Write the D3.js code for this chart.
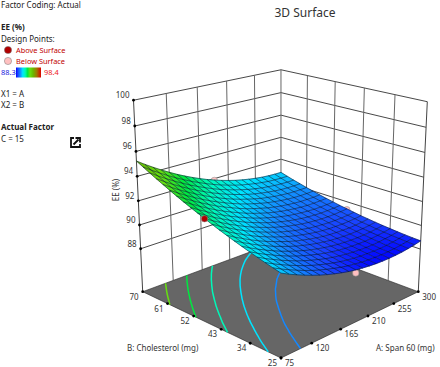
<!DOCTYPE html>
<html>
<head>
<meta charset="utf-8">
<script src="https://d3js.org/d3.v7.min.js"></script>
<style>
    html, body { margin: 0; padding: 0; background: #fff; }
    svg { display: block; }
    text { font-family: "Noto Sans", "Open Sans", sans-serif; font-size: 8px; fill: #333; }
</style>
</head>
<body>
<div id="chart"></div>
<script>
// tick labels
const spanTicks = [75, 120, 165, 210, 255, 300];
const cholTicks = [70, 61, 52, 43, 34, 25];
const eeTicks = [88, 90, 92, 94, 96, 98, 100];
const contourLevels = [90, 91, 92, 93, 94];

// EE (%), one row per Span 60 step (75..300), Cholesterol 25..70 along each row
const eeGrid = [
    [90.75,90.90,91.06,91.23,91.41,91.59,91.78,91.98,92.18,92.40,92.62,92.85,93.08,93.32,93.57,93.83,94.10,94.37,94.65,94.94,95.23],
    [90.43,90.58,90.73,90.89,91.06,91.24,91.43,91.62,91.82,92.02,92.24,92.46,92.69,92.93,93.17,93.42,93.68,93.95,94.22,94.50,94.79],
    [90.14,90.28,90.43,90.59,90.75,90.92,91.10,91.29,91.48,91.68,91.89,92.10,92.33,92.56,92.80,93.04,93.29,93.55,93.82,94.10,94.38],
    [89.87,90.01,90.15,90.30,90.46,90.62,90.79,90.97,91.16,91.36,91.56,91.77,91.98,92.21,92.44,92.68,92.93,93.18,93.44,93.71,93.99],
    [89.62,89.75,89.89,90.03,90.18,90.34,90.51,90.68,90.86,91.05,91.25,91.45,91.66,91.88,92.11,92.34,92.58,92.83,93.09,93.35,93.62],
    [89.39,89.51,89.64,89.78,89.93,90.08,90.24,90.41,90.58,90.77,90.96,91.16,91.36,91.57,91.79,92.02,92.26,92.50,92.75,93.01,93.27],
    [89.19,89.31,89.43,89.56,89.70,89.85,90.01,90.17,90.34,90.51,90.70,90.89,91.09,91.30,91.51,91.73,91.96,92.20,92.44,92.69,92.95],
    [89.01,89.12,89.24,89.37,89.50,89.64,89.79,89.95,90.11,90.28,90.46,90.64,90.84,91.04,91.25,91.46,91.68,91.91,92.15,92.40,92.65],
    [88.85,88.96,89.07,89.19,89.32,89.45,89.59,89.74,89.90,90.06,90.24,90.42,90.60,90.80,91.00,91.21,91.42,91.65,91.88,92.12,92.37],
    [88.71,88.81,88.92,89.03,89.15,89.28,89.42,89.56,89.71,89.87,90.04,90.21,90.39,90.58,90.77,90.98,91.19,91.41,91.63,91.87,92.11],
    [88.60,88.69,88.79,88.90,89.02,89.14,89.27,89.41,89.55,89.71,89.87,90.03,90.21,90.39,90.58,90.78,90.98,91.20,91.41,91.64,91.88],
    [88.51,88.60,88.69,88.79,88.90,89.02,89.14,89.28,89.42,89.56,89.72,89.88,90.05,90.22,90.41,90.60,90.80,91.00,91.22,91.44,91.67],
    [88.44,88.52,88.61,88.71,88.81,88.92,89.04,89.16,89.30,89.44,89.59,89.74,89.90,90.07,90.25,90.44,90.63,90.83,91.04,91.25,91.48],
    [88.39,88.47,88.55,88.64,88.74,88.84,88.95,89.07,89.20,89.33,89.48,89.63,89.78,89.95,90.12,90.30,90.48,90.68,90.88,91.09,91.31],
    [88.37,88.44,88.52,88.60,88.69,88.79,88.90,89.01,89.13,89.26,89.40,89.54,89.69,89.85,90.01,90.19,90.37,90.56,90.75,90.96,91.17],
    [88.37,88.43,88.50,88.58,88.67,88.76,88.86,88.97,89.08,89.21,89.34,89.47,89.62,89.77,89.93,90.10,90.27,90.46,90.64,90.84,91.05],
    [88.39,88.45,88.51,88.58,88.66,88.75,88.84,88.95,89.06,89.17,89.30,89.43,89.57,89.71,89.87,90.03,90.20,90.37,90.56,90.75,90.95],
    [88.43,88.48,88.54,88.61,88.68,88.76,88.85,88.94,89.05,89.16,89.28,89.40,89.53,89.67,89.82,89.98,90.14,90.31,90.49,90.67,90.87],
    [88.50,88.55,88.60,88.66,88.73,88.80,88.88,88.97,89.07,89.17,89.29,89.41,89.53,89.67,89.81,89.96,90.11,90.28,90.45,90.63,90.82],
    [88.59,88.63,88.68,88.73,88.79,88.86,88.94,89.02,89.11,89.21,89.32,89.43,89.55,89.68,89.81,89.96,90.11,90.27,90.43,90.61,90.79],
    [88.70,88.73,88.77,88.82,88.88,88.94,89.01,89.09,89.17,89.27,89.37,89.47,89.59,89.71,89.84,89.98,90.12,90.28,90.43,90.60,90.78]
];

// design points, below the surface first, then the one above it
const belowPoints = [[187.5, 70, 91.85], [300, 47.5, 89.3], [187.5, 25, 88.35]];
const abovePoints = [[75, 47.5, 92.6]];

const width = 440, height = 367;
const svg = d3.select("#chart").append("svg")
    .attr("width", width)
    .attr("height", height);

const sx = d3.scaleLinear().domain([75, 300]).range([0, 1]);
const sy = d3.scaleLinear().domain([25, 70]).range([0, 1]);
const sz = d3.scaleLinear().domain([84.3, 100]).range([0, 1]);
const stepX = d3.scaleLinear().domain([0, 20]).range([75, 300]);
const stepY = d3.scaleLinear().domain([0, 20]).range([25, 70]);

// perspective camera, fitted to the corners of the box
function project(a, b, e) {
    let s = sx(a), t = sy(b), h = sz(e);
    let w = 1 + 0.1516 * s + 0.1433 * t - 0.0711 * h;
    return [
        (281 + 200.7 * s - 117.85 * t - 20 * h) / w,
        (358 - 22.07 * s - 24.5 * t - 226.04 * h) / w
    ];
}

const color = d3.scaleLinear()
    .domain([88.3, 89, 90, 91, 92, 93, 94, 95.2, 96.7, 98.4])
    .range(["#0000ff", "#1a40ff", "#1488ff", "#00e4ff", "#00f8b8", "#00e840", "#66e010", "#68b800", "#a07800", "#dd0000"]);

const line = d3.line();
const zBottom = sz.domain()[0], zTop = sz.domain()[1];
const spanMin = spanTicks[0], spanMax = spanTicks[5], cholMin = 25, cholMax = 70;

// walls
const walls = svg.append("g").attr("fill", "none");
eeTicks.forEach(e => {
    walls.append("path")
        .attr("d", line([project(spanMin, cholMax, e), project(spanMax, cholMax, e), project(spanMax, cholMin, e)]))
        .attr("stroke", "#333")
        .attr("stroke-width", 0.9);
});
spanTicks.forEach(a => {
    walls.append("path")
        .attr("d", line([project(a, cholMax, zBottom), project(a, cholMax, zTop)]))
        .attr("stroke", a === spanMin ? "#444" : "#666")
        .attr("stroke-width", 1);
});
cholTicks.forEach(b => {
    if (b === cholMax) return;
    walls.append("path")
        .attr("d", line([project(spanMax, b, zBottom), project(spanMax, b, zTop)]))
        .attr("stroke", b === cholMin ? "#444" : "#666")
        .attr("stroke-width", 1);
});

// floor
svg.append("path")
    .attr("d", line([
        project(spanMin, cholMin, zBottom), project(spanMax, cholMin, zBottom),
        project(spanMax, cholMax, zBottom), project(spanMin, cholMax, zBottom)
    ]) + "Z")
    .attr("fill", "#666")
    .attr("stroke", "#222")
    .attr("stroke-width", 0.6);

// contour lines on the floor
const flat = [];
d3.range(21).forEach(j => d3.range(21).forEach(i => flat.push(eeGrid[i][j])));
const rings = d3.contours().size([21, 21]).thresholds(contourLevels)(flat);
rings.forEach(c => {
    c.coordinates.forEach(poly => poly.forEach(ring => {
        // d3 closes the rings along the border of the grid, keep only the inside runs
        let inside = p => p[0] >= 0.5 && p[0] <= 20.5 && p[1] >= 0.5 && p[1] <= 20.5;
        let start = ring.findIndex(p => !inside(p));
        let pts = ring.slice(0, -1);
        if (start > 0) pts = pts.slice(start).concat(pts.slice(0, start));
        let run = [];
        const flush = () => {
            if (run.length > 1) {
                svg.append("path")
                    .attr("d", d3.line().curve(d3.curveCatmullRom)(run.map(p =>
                        project(stepX(p[0] - 0.5), stepY(p[1] - 0.5), zBottom))))
                    .attr("fill", "none")
                    .attr("stroke", color(c.value))
                    .attr("stroke-width", 1.5);
            }
            run = [];
        };
        pts.forEach(p => { if (inside(p)) run.push(p); else flush(); });
        flush();
    }));
});

// axis ticks on the box
const tickDot = (p) => svg.append("circle").attr("cx", p[0]).attr("cy", p[1]).attr("r", 1.4).attr("fill", "#000");
spanTicks.forEach(a => {
    let p = project(a, cholMin, zBottom);
    tickDot(p);
    svg.append("text").attr("x", p[0] + 4).attr("y", p[1] + 8).text(a);
});
cholTicks.forEach(b => {
    let p = project(spanMin, b, zBottom);
    tickDot(p);
    svg.append("text").attr("x", p[0] - 4).attr("y", p[1] + 8).attr("text-anchor", "end").text(b);
});
eeTicks.forEach(e => {
    let p = project(spanMin, cholMax, e);
    tickDot(p);
    svg.append("text").attr("x", p[0] - 4).attr("y", p[1] - 2).attr("text-anchor", "end").text(e);
});

// design points under the surface
const drawPoints = (pts, fill) => {
    svg.append("g").selectAll("circle")
        .data(pts)
        .enter()
        .append("circle")
        .attr("cx", d => project(d[0], d[1], d[2])[0])
        .attr("cy", d => project(d[0], d[1], d[2])[1])
        .attr("r", 3.2)
        .attr("fill", fill)
        .attr("stroke", "#888")
        .attr("stroke-width", 0.5);
};
drawPoints(belowPoints, "#ffc0c0");

// surface, far corner first
const cells = [];
d3.range(19, -1, -1).forEach(i => d3.range(19, -1, -1).forEach(j => cells.push([i, j])));
const corner = (i, j) => project(stepX(i), stepY(j), eeGrid[i][j]);
const cellColor = d => color(d3.mean([eeGrid[d[0]][d[1]], eeGrid[d[0] + 1][d[1]], eeGrid[d[0] + 1][d[1] + 1], eeGrid[d[0]][d[1] + 1]]));
svg.append("g").selectAll("path")
    .data(cells)
    .enter()
    .append("path")
    .attr("d", d => line([corner(d[0], d[1]), corner(d[0] + 1, d[1]), corner(d[0] + 1, d[1] + 1), corner(d[0], d[1] + 1)]) + "Z")
    .attr("fill", cellColor)
    .attr("stroke", cellColor)
    .attr("stroke-width", 0.4);

// mesh
const mesh = svg.append("g").attr("fill", "none").attr("stroke", "#021028").attr("stroke-opacity", 0.9).attr("stroke-width", 0.6);
d3.range(21).forEach(i => {
    mesh.append("path").attr("d", line(d3.range(21).map(j => corner(i, j))));
    mesh.append("path").attr("d", line(d3.range(21).map(j => corner(j, i))));
});

drawPoints(abovePoints, "#b00000");

// axis titles
svg.append("text").attr("x", 127).attr("y", 351).text("B: Cholesterol (mg)");
svg.append("text").attr("x", 376).attr("y", 351).text("A: Span 60 (mg)");
svg.append("text")
    .attr("transform", "translate(119,190) rotate(-90)")
    .attr("text-anchor", "middle")
    .text("EE (%)");
svg.append("text")
    .attr("x", 305).attr("y", 17)
    .attr("text-anchor", "middle")
    .style("font-size", "12px")
    .text("3D Surface");

// side panel
const panel = svg.append("g");
const label = (x, y, txt, bold, fill, size) => panel.append("text")
    .attr("x", x).attr("y", y)
    .style("font-weight", bold ? "700" : "400")
    .style("font-size", (size || 8) + "px")
    .style("fill", fill || "#222")
    .text(txt);
label(1, 8, "Factor Coding: Actual");
label(1, 30, "EE (%)", true);
label(1, 42, "Design Points:");
panel.append("circle").attr("cx", 8).attr("cy", 50).attr("r", 3.6).attr("fill", "#b00000").attr("stroke", "#777").attr("stroke-width", 0.5);
label(16, 52.5, "Above Surface", false, "#c00000", 7.4);
panel.append("circle").attr("cx", 8).attr("cy", 61).attr("r", 3.6).attr("fill", "#ffc0c0").attr("stroke", "#777").attr("stroke-width", 0.5);
label(16, 63.5, "Below Surface", false, "#c00000", 7.4);
label(1, 75, "88.3", false, "#2020dd", 7.4);
label(44, 75, "98.4", false, "#ee2020", 7.4);

const grad = svg.append("defs").append("linearGradient").attr("id", "bar");
color.domain().forEach(v => {
    grad.append("stop")
        .attr("offset", (v - 88.3) / (98.4 - 88.3))
        .attr("stop-color", color(v));
});
panel.append("rect").attr("x", 16).attr("y", 67.5).attr("width", 25).attr("height", 10).attr("fill", "url(#bar)");

label(1, 97, "X1 = A");
label(1, 108, "X2 = B");
label(1, 130, "Actual Factor", true);
label(1, 142, "C = 15");

// export icon
const icon = panel.append("g").attr("transform", "translate(70,137)");
icon.append("path")
    .attr("d", "M4,1H1V10H10V7")
    .attr("fill", "none").attr("stroke", "#111").attr("stroke-width", 1.8);
icon.append("path")
    .attr("d", "M3.5,7.5L8.5,2.5M5.5,1H10V5.5")
    .attr("fill", "none").attr("stroke", "#111").attr("stroke-width", 1.8);
</script>
</body>
</html>
